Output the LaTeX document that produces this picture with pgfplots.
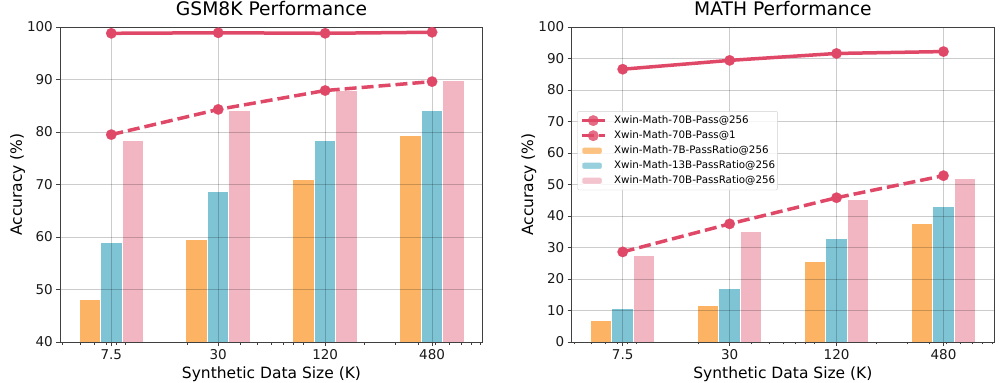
\documentclass[border=0pt]{standalone}
\usepackage{fontspec}
\setmainfont{DejaVu Sans}
\usepackage{pgfplots}
\pgfplotsset{compat=1.18}
\definecolor{lineC}{RGB}{224,72,104}
\definecolor{orangeC}{RGB}{252,180,100}
\definecolor{blueC}{RGB}{126,196,212}
\definecolor{pinkC}{RGB}{241,182,194}
\pgfplotsset{
  myaxis/.style={
    scale only axis, width=422.4bp, height=315bp,
    set layers, clip mode=individual,
    xmin=3.871, xmax=925.5,
    xtick={7.5,30,120,480}, xticklabels={7.5,30,120,480},
    minor xtick={4,5,6,7,8,9,20,40,50,60,70,80,90,200,300,400,500,600,700,800,900},
    tick align=outside, tick pos=left,
    major tick length=4bp, minor tick length=2.5bp,
    every tick/.style={black!75, line width=0.8bp},
    axis line style={black!75, line width=0.8bp},
    xmajorgrids, ymajorgrids,
    major grid style={draw=black, opacity=0.2, line width=0.8bp},
    /pgf/number format/assume math mode=true,
    tick label style={font=\fontsize{13.5bp}{16bp}\selectfont, black!90},
    title style={font=\fontsize{18.7bp}{22bp}\selectfont, at={(axis description cs:0.5,1)}, anchor=base, yshift=5.5bp},
    xlabel style={font=\fontsize{15.5bp}{18bp}\selectfont, at={(axis description cs:0.5,0)}, anchor=base, yshift=-36bp},
    ylabel style={font=\fontsize{15.5bp}{18bp}\selectfont, at={(axis description cs:-0.0912,0.5)}, anchor=base},
    xlabel={Synthetic Data Size (K)},
    ylabel={Accuracy (\%)},
  },
  passline/.style={color=lineC, line width=3.5bp, mark=*, mark size=5.3bp,
    mark options={solid, line width=0.1bp, draw=lineC, fill=lineC}},
  bars/.style={ybar, bar width=21.5bp, draw=white, line width=1bp, on layer=axis background,
    legend image code/.code={\fill[##1] (0bp,-3.6bp) rectangle (20.5bp,3.6bp);}},
}
\begin{document}
\begin{tikzpicture}
% ---------------- GSM8K ----------------
\begin{axis}[xmode=log, log basis x=10, myaxis, at={(0bp,0bp)}, anchor=south west,
  ymin=40, ymax=100, ytick={40,50,...,100},
  title={GSM8K Performance}]
\addplot[passline] coordinates {(7.5,98.8) (30,98.9) (120,98.8) (480,99.0)};
\addplot[passline, dash pattern=on 12bp off 5bp] coordinates {(7.5,79.5) (30,84.3) (120,87.9) (480,89.6)};
\addplot[bars, fill=orangeC, bar shift=-21.5bp] coordinates {(7.5,48.0) (30,59.6) (120,71.0) (480,79.4)};
\addplot[bars, fill=blueC, bar shift=0bp] coordinates {(7.5,58.9) (30,68.7) (120,78.3) (480,84.0)};
\addplot[bars, fill=pinkC, bar shift=21.5bp] coordinates {(7.5,78.3) (30,84.0) (120,87.9) (480,89.8)};
\end{axis}
% ---------------- MATH ----------------
\begin{axis}[xmode=log, log basis x=10, myaxis, at={(511.4bp,0bp)}, anchor=south west,
  ymin=0, ymax=100, ytick={0,10,...,100},
  title={MATH Performance},
  legend cell align=left,
  legend style={at={(axis description cs:0.0133,0.733)}, anchor=north west,
    draw=black!18, rounded corners=2bp, fill=white, fill opacity=0.8, text opacity=1,
    font=\fontsize{10.3bp}{12bp}\selectfont,
    inner xsep=2.5bp, inner ysep=4bp, row sep=4.5bp,
    nodes={inner sep=0bp, text height=8bp, text depth=2.5bp},
    /tikz/every odd column/.append style={column sep=7.5bp}},
  legend image code/.code={\draw[mark repeat=2, mark phase=2, #1] plot coordinates {(0bp,0bp) (11.5bp,0bp) (23bp,0bp)};}]
\addplot[passline] coordinates {(7.5,86.6) (30,89.4) (120,91.6) (480,92.2)};
\addlegendentry{Xwin-Math-70B-Pass@256}
\addplot[passline, dash pattern=on 12bp off 5bp] coordinates {(7.5,28.6) (30,37.5) (120,45.8) (480,52.8)};
\addlegendentry{Xwin-Math-70B-Pass@1}
\addplot[bars, fill=orangeC, bar shift=-21.5bp] coordinates {(7.5,6.8) (30,11.5) (120,25.5) (480,37.5)};
\addlegendentry{Xwin-Math-7B-PassRatio@256}
\addplot[bars, fill=blueC, bar shift=0bp] coordinates {(7.5,10.6) (30,17.1) (120,32.9) (480,42.9)};
\addlegendentry{Xwin-Math-13B-PassRatio@256}
\addplot[bars, fill=pinkC, bar shift=21.5bp] coordinates {(7.5,27.4) (30,35.0) (120,45.1) (480,51.8)};
\addlegendentry{Xwin-Math-70B-PassRatio@256}
\end{axis}
\pgfresetboundingbox
\path[use as bounding box] (-60.3bp,-41bp) rectangle (941.7bp,342bp);
\end{tikzpicture}
\end{document}
